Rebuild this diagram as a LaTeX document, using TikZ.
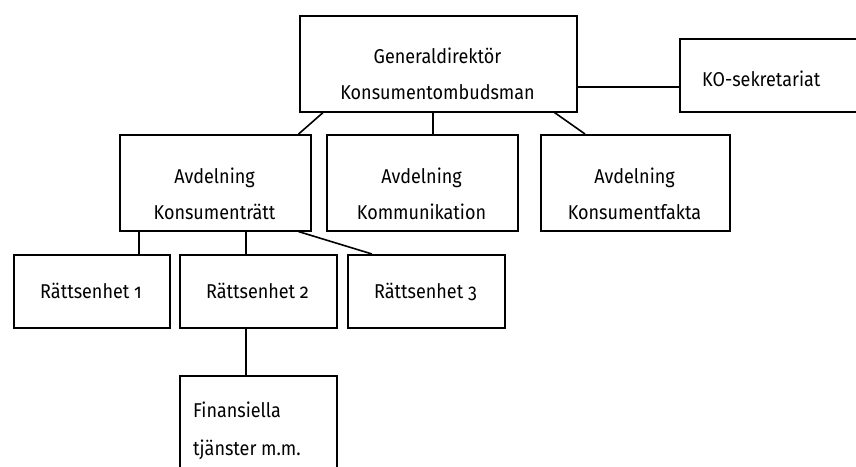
\documentclass[tikz,border=0pt]{standalone}
\usepackage{fontspec}
\setmainfont{Fira Sans}[Numbers=OldStyle,FakeStretch=0.9]
\usetikzlibrary{calc}
\begin{document}
\begin{tikzpicture}[x=1pt,y=-1pt,
  orgbox/.style={draw=black,line width=1.6pt,rectangle,inner sep=0pt,anchor=north west},
  conn/.style={draw=black,line width=1.6pt},
  txt/.style={inner sep=0pt,anchor=base,font=\fontsize{20}{24}\selectfont},
  ltxt/.style={inner sep=0pt,anchor=base west,font=\fontsize{20}{24}\selectfont}]
\useasboundingbox (0,0) rectangle (856,466);
\clip (0,0) rectangle (856,466);
% boxes
\node[orgbox,minimum width=277pt,minimum height=96pt] (gd) at (299,15) {};
\node[orgbox,minimum width=200pt,minimum height=73pt] (ko) at (679,38) {};
\node[orgbox,minimum width=191pt,minimum height=96pt] (avk) at (119,134) {};
\node[orgbox,minimum width=191pt,minimum height=96pt] (avkom) at (326,134) {};
\node[orgbox,minimum width=189pt,minimum height=96pt] (avkf) at (540,134) {};
\node[orgbox,minimum width=156pt,minimum height=73pt] (r1) at (13,254) {};
\node[orgbox,minimum width=157pt,minimum height=73pt] (r2) at (179,254) {};
\node[orgbox,minimum width=157pt,minimum height=73pt] (r3) at (347,254) {};
\node[orgbox,minimum width=157pt,minimum height=130pt] (fin) at (179,375) {};
% texts
\node[txt] (gdt1) at (437.5,63) {Generaldirektör};
\node[txt] (gdt2) at (437.5,99) {Konsumentombudsman};
\node[ltxt] (kot) at (702,86) {KO-sekretariat};
\node[txt] (avkt1) at (214.5,183) {Avdelning};
\node[txt] (avkt2) at (214.5,219) {Konsumenträtt};
\node[txt] (avkomt1) at (421.5,183) {Avdelning};
\node[txt] (avkomt2) at (421.5,219) {Kommunikation};
\node[txt] (avkft1) at (634.5,183) {Avdelning};
\node[txt] (avkft2) at (634.5,219) {Konsumentfakta};
\node[txt] (r1t) at (91,298) {Rättsenhet 1};
\node[txt] (r2t) at (257.5,298) {Rättsenhet 2};
\node[txt] (r3t) at (425.5,298) {Rättsenhet 3};
\node[ltxt] (fint1) at (193,417) {Finansiella};
\node[ltxt] (fint2) at (193,455) {tjänster m.m.};
% connectors
\draw[conn] (gd.east |- 0,87) -- (ko.west |- 0,87);
\draw[conn] ([xshift=24pt]gd.south west) -- ([xshift=-13pt]avk.north east);
\draw[conn] (gd.south -| 433,0) -- (avkom.north -| 433,0);
\draw[conn] ([xshift=-23pt]gd.south east) -- ([xshift=45pt]avkf.north west);
\draw[conn] (avk.south -| 139,0) -- (r1.north -| 139,0);
\draw[conn] (avk.south -| 246,0) -- (r2.north -| 246,0);
\draw[conn] ([xshift=-13pt]avk.south east) -- ([xshift=25pt]r3.north west);
\draw[conn] (r2.south -| 246,0) -- (fin.north -| 246,0);
\end{tikzpicture}
\end{document}
